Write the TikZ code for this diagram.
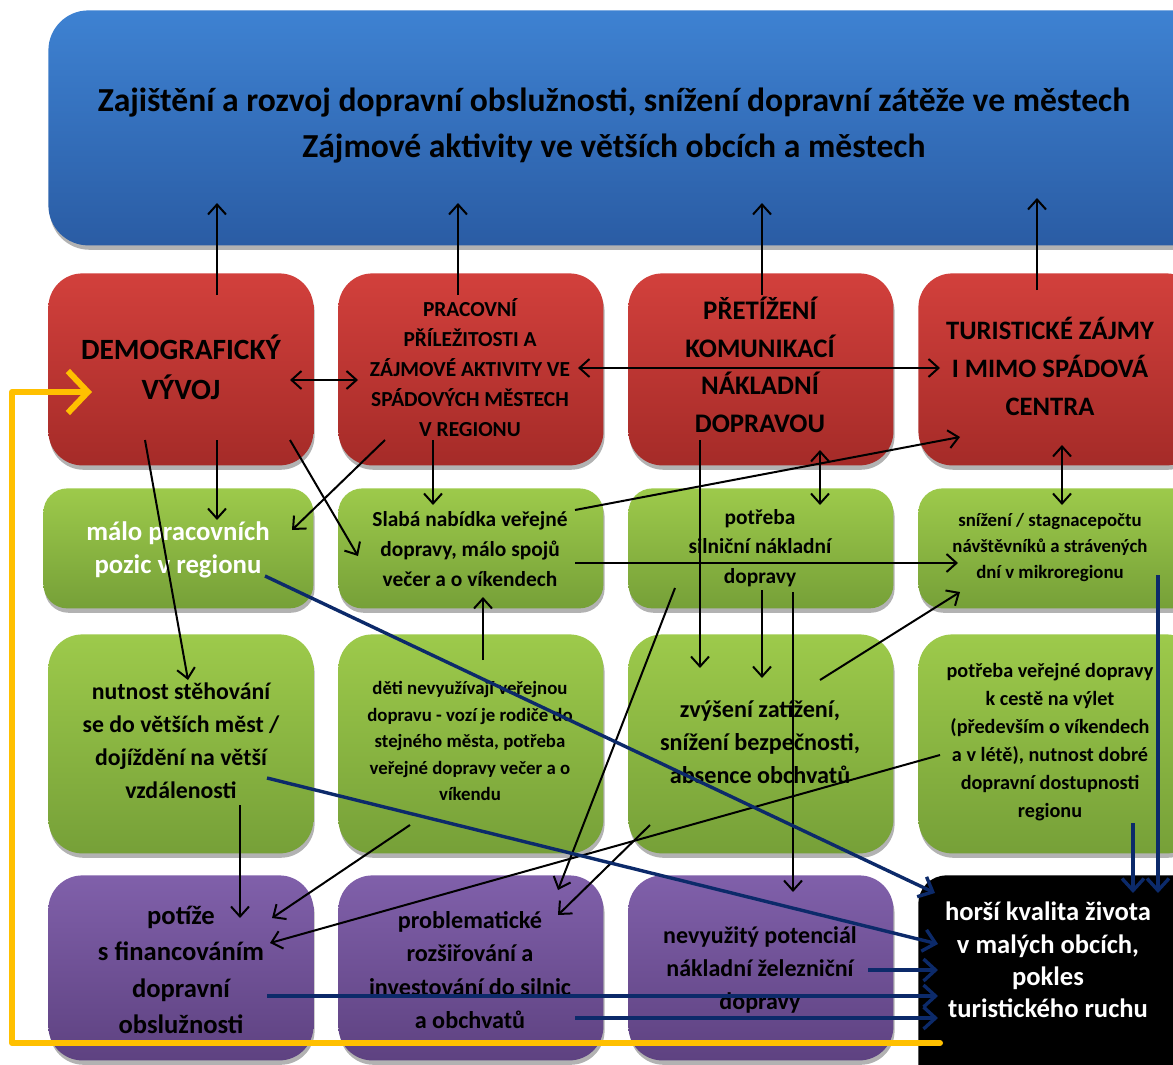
\documentclass[tikz,border=0pt]{standalone}
\usepackage{fontspec}
\setmainfont{Carlito}
\usetikzlibrary{arrows.meta,shadows}
\definecolor{blueT}{HTML}{3E82D2}
\definecolor{blueB}{HTML}{2A5CA4}
\definecolor{redT}{HTML}{D2403C}
\definecolor{redB}{HTML}{A52B28}
\definecolor{greenT}{HTML}{9DCA4B}
\definecolor{greenB}{HTML}{76A038}
\definecolor{purpT}{HTML}{8060AA}
\definecolor{purpB}{HTML}{5E4281}
\definecolor{navy}{HTML}{0C2A6A}
\definecolor{gold}{HTML}{FFC000}
\newcommand\myfs[2]{\fontsize{#1}{#2}\selectfont\bfseries}
\newcommand\mybox[6]{\node[#2, anchor=north west, minimum width={(#5-#3)*0.5pt}, minimum height={(#6-#4)*0.5pt}, inner sep=0pt] (#1) at (#3,#4) {};}
\newcommand\conn[6]{\coordinate (#2s) at (#3,#4); \coordinate (#2e) at (#5,#6); \draw[#1] (#2s) -- (#2e);}
\tikzset{
  shbox/.style={rectangle, draw=none, drop shadow={shadow xshift=0.6pt, shadow yshift=-2.2pt, fill=black, opacity=0.3}},
  bannerbox/.style={shbox, rounded corners=20pt, top color=blueT, bottom color=blueB},
  redbox/.style={shbox, rounded corners=17pt, top color=redT, bottom color=redB},
  greenbox/.style={shbox, rounded corners=12pt, top color=greenT, bottom color=greenB},
  greenboxb/.style={shbox, rounded corners=17pt, top color=greenT, bottom color=greenB},
  purpbox/.style={shbox, rounded corners=17pt, top color=purpT, bottom color=purpB},
  blackbox/.style={shbox, rounded corners=14pt, fill=black},
  txt/.style={align=center, inner sep=0pt, text=black},
  blk/.style={line width=1pt, -{Straight Barb[length=5pt,width=9pt,line width=1pt]}},
  blkd/.style={line width=1pt, {Straight Barb[length=5pt,width=9pt,line width=1pt]}-{Straight Barb[length=5pt,width=9pt,line width=1pt]}},
  blu/.style={line width=1.7pt, navy, -{Straight Barb[length=6pt,width=11pt,line width=1.7pt]}},
}
\begin{document}
\begin{tikzpicture}[x=0.5pt,y=-0.5pt]
\useasboundingbox (0,0) rectangle (1173,1065);
\fill[white] (0,0) rectangle (1173,1065);
% boxes
\mybox{banner}{bannerbox}{48}{10}{1215}{245}
\mybox{r1}{redbox}{48}{273}{313}{465}
\mybox{r2}{redbox}{338}{273}{603}{465}
\mybox{r3}{redbox}{628}{273}{893}{465}
\mybox{r4}{redbox}{918}{273}{1200}{465}
\mybox{g1}{greenbox}{43}{488}{313}{608}
\mybox{g2}{greenbox}{338}{488}{603}{608}
\mybox{g3}{greenbox}{628}{488}{893}{608}
\mybox{g4}{greenbox}{918}{488}{1200}{608}
\mybox{h1}{greenboxb}{48}{634}{313}{853}
\mybox{h2}{greenboxb}{338}{634}{603}{853}
\mybox{h3}{greenboxb}{628}{634}{893}{853}
\mybox{h4}{greenboxb}{918}{634}{1200}{853}
\mybox{p1}{purpbox}{48}{875}{313}{1060}
\mybox{p2}{purpbox}{338}{875}{603}{1060}
\mybox{p3}{purpbox}{628}{875}{893}{1060}
\mybox{k4}{blackbox}{918}{875}{1200}{1100}
% texts
\node[txt, font=\myfs{16.8}{23}] (tban) at (614,126) {Zajištění a rozvoj dopravní obslužnosti, snížení dopravní zátěže ve městech\\Zájmové aktivity ve větších obcích a městech};
\node[txt, font=\myfs{14.7}{20}] (tr1) at (181,367) {DEMOGRAFICKÝ\\VÝVOJ};
\node[txt, font=\myfs{10.7}{15}] (tr2) at (470,368) {PRACOVNÍ\\PŘÍLEŽITOSTI A\\ZÁJMOVÉ AKTIVITY VE\\SPÁDOVÝCH MĚSTECH\\V REGIONU};
\node[txt, font=\myfs{13.4}{18.75}] (tr3) at (760,365) {PŘETÍŽENÍ\\KOMUNIKACÍ\\NÁKLADNÍ\\DOPRAVOU};
\node[txt, font=\myfs{13.3}{19}] (tr4) at (1050,366) {TURISTICKÉ ZÁJMY\\I MIMO SPÁDOVÁ\\CENTRA};
\node[txt, text=white, font=\myfs{13.4}{16.5}] (tg1) at (178,550) {málo pracovních\\pozic v regionu};
\node[txt, font=\myfs{10.7}{15}] (tg2) at (470,549) {Slabá nabídka veřejné\\dopravy, málo spojů\\večer a o víkendech};
\node[txt, font=\myfs{10.7}{14.75}] (tg3) at (760,548) {potřeba\\silniční nákladní\\dopravy};
\node[txt, font=\myfs{9.4}{13}] (tg4) at (1050,547) {snížení / stagnacepočtu\\návštěvníků a strávených\\dní v mikroregionu};
\node[txt, font=\myfs{11.9}{16.5}] (th1) at (181,741) {nutnost stěhování\\se do větších měst /\\dojíždění na větší\\vzdálenosti};
\node[txt, font=\myfs{9.4}{13.25}] (th2) at (470,741) {děti nevyužívají veřejnou\\dopravu - vozí je rodiče do\\stejného města, potřeba\\veřejné dopravy večer a o\\víkendu};
\node[txt, font=\myfs{12.1}{16.5}] (th3) at (760,742) {zvýšení zatížení,\\snížení bezpečnosti,\\absence obchvatů};
\node[txt, font=\myfs{10.1}{14}] (th4) at (1050,742) {potřeba veřejné dopravy\\k cestě na výlet\\(především o víkendech\\a v létě), nutnost dobré\\dopravní dostupnosti\\regionu};
\node[txt, font=\myfs{13.3}{18.3}] (tp1) at (181,970) {potíže\\s financováním\\dopravní\\obslužnosti};
\node[txt, font=\myfs{12.1}{16.7}] (tp2) at (470,970) {problematické\\rozšiřování a\\investování do silnic\\a obchvatů};
\node[txt, font=\myfs{12}{16.7}] (tp3) at (760,970) {nevyužitý potenciál\\nákladní železniční\\dopravy};
\node[txt, text=white, font=\myfs{13.3}{16.2}] (tk4) at (1048,960) {horší kvalita života\\v malých obcích,\\pokles\\turistického ruchu};
% black arrows
\conn{blk}{a1}{217}{295}{217}{203}
\conn{blk}{a2}{458}{295}{458}{203}
\conn{blk}{a3}{762}{295}{762}{203}
\conn{blk}{a4}{1037}{290}{1037}{198}
\conn{blkd}{a5}{290}{380}{358}{380}
\conn{blkd}{a6}{578}{368}{940}{368}
\conn{blk}{a7}{145}{440}{188}{680}
\conn{blk}{a8}{217}{440}{217}{520}
\conn{blk}{a9}{290}{440}{358}{556}
\conn{blk}{a10}{385}{440}{292}{530}
\conn{blk}{a11}{433}{440}{433}{505}
\conn{blk}{a12}{575}{510}{960}{437}
\conn{blk}{a13}{575}{563}{958}{563}
\conn{blk}{a14}{483}{660}{483}{597}
\conn{blkd}{a15}{820}{450}{820}{505}
\conn{blkd}{a16}{1062}{445}{1062}{505}
\conn{blk}{a17}{700}{440}{700}{668}
\conn{blk}{a18}{762}{590}{762}{678}
\conn{blk}{a19}{793}{592}{793}{892}
\conn{blk}{a20}{820}{680}{960}{592}
\conn{blk}{a21}{675}{588}{558}{890}
\conn{blk}{a22}{650}{825}{558}{915}
\conn{blk}{a23}{940}{755}{270}{943}
\conn{blk}{a24}{410}{825}{272}{918}
\conn{blk}{a25}{240}{805}{240}{918}
% blue arrows
\conn{blu}{b1}{265}{576}{935}{893}
\conn{blu}{b2}{267}{778}{938}{944}
\conn{blu}{b3}{267}{996}{938}{996}
\conn{blu}{b4}{575}{1018}{938}{1018}
\conn{blu}{b5}{868}{970}{938}{970}
\conn{blu}{b6}{1133}{823}{1133}{893}
\conn{blu}{b7}{1158}{575}{1158}{893}
% yellow feedback
\coordinate (y1) at (940,1043);
\coordinate (y2) at (12,1043);
\coordinate (y3) at (12,392);
\coordinate (y4) at (92,392);
\draw[gold, line width=3pt, line cap=round, line join=round, -{Straight Barb[length=10pt,width=21pt,line width=3pt]}] (y1) -- (y2) -- (y3) -- (y4);
\end{tikzpicture}
\end{document}
